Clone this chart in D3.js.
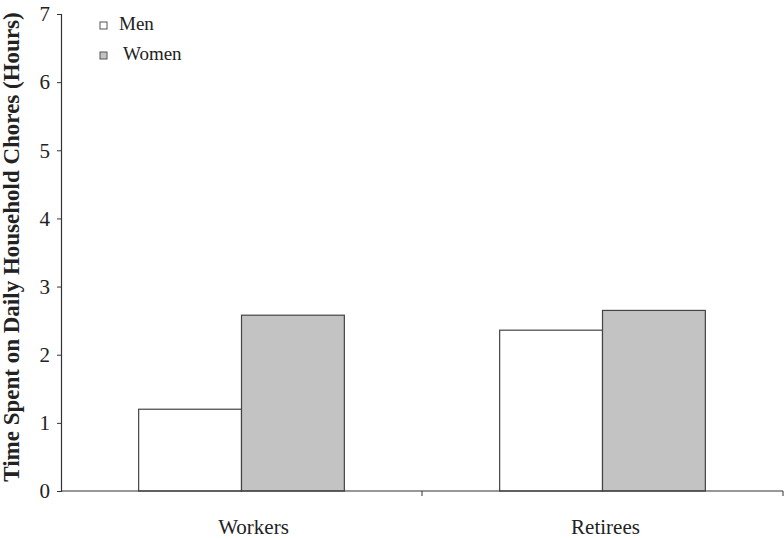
<!DOCTYPE html>
<html>
<head>
<meta charset="utf-8">
<script src="https://cdn.jsdelivr.net/npm/d3@7"></script>
<style>
  body { margin: 0; background: #fff; }
</style>
</head>
<body>
<svg id="chart" width="784" height="540"></svg>
<script>
const groups = ["Workers", "Retirees"];
const seriesNames = ["Men", "Women"];
const men = [1.20, 2.36];
const women = [2.58, 2.65];
const yTicks = [0, 1, 2, 3, 4, 5, 6, 7];

const colors = { Men: "#ffffff", Women: "#c3c3c3" };
const fontFam = "Liberation Serif";

const svg = d3.select("#chart");
const margin = { top: 14, right: 1, bottom: 49, left: 61 };
const width = +svg.attr("width") - margin.left - margin.right;
const height = +svg.attr("height") - margin.top - margin.bottom;

const chart = svg.append("g")
    .attr("transform", `translate(${margin.left},${margin.top})`);

const x = d3.scaleBand().domain(groups).range([0, width]);
const xInner = d3.scaleBand().domain(seriesNames)
    .range([0, x.bandwidth()]).paddingOuter(0.755).paddingInner(0);
const y = d3.scaleLinear().domain([0, 7]).range([height, 0]);

const data = groups.map((g, i) => ({ group: g, values: [
    { key: "Men", value: men[i] },
    { key: "Women", value: women[i] }
]}));

// bars
chart.selectAll(".grp")
    .data(data)
    .enter().append("g")
    .attr("transform", d => `translate(${x(d.group)},0)`)
    .selectAll("rect")
    .data(d => d.values)
    .enter().append("rect")
    .attr("x", d => xInner(d.key))
    .attr("y", d => y(d.value))
    .attr("width", xInner.bandwidth())
    .attr("height", d => height - y(d.value))
    .attr("fill", d => colors[d.key])
    .attr("stroke", "#444")
    .attr("stroke-width", 1.2);

// y axis
const yAxis = chart.append("g")
    .call(d3.axisLeft(y).tickValues(yTicks).tickFormat(d3.format("d"))
        .tickSize(4).tickPadding(7));
yAxis.select(".domain").attr("stroke", "#333").attr("stroke-width", 1.2);
yAxis.selectAll(".tick line").attr("stroke", "#333");
yAxis.selectAll("text")
    .style("font-family", fontFam)
    .style("font-size", "21px")
    .attr("fill", "#222");

// x axis: ticks at band boundaries
const xAxis = chart.append("g").attr("transform", `translate(0,${height})`);
xAxis.append("line").attr("x1", 0).attr("x2", width)
    .attr("stroke", "#333").attr("stroke-width", 1.2);
xAxis.selectAll(".xt")
    .data(groups.slice(1).map(g => x(g)).concat([width]))
    .enter().append("line")
    .attr("x1", d => d).attr("x2", d => d)
    .attr("y1", 0).attr("y2", 5)
    .attr("stroke", "#333");
// labels sit a little right of the band centre in the original
const labelShift = [12, 3];
xAxis.selectAll(".xl")
    .data(groups)
    .enter().append("text")
    .attr("x", (d, i) => x(d) + x.bandwidth() / 2 + labelShift[i])
    .attr("y", 43)
    .attr("text-anchor", "middle")
    .style("font-family", fontFam)
    .style("font-size", "21px")
    .attr("fill", "#222")
    .text(d => d);

// y title
svg.append("text")
    .attr("transform", "translate(19,247) rotate(-90)")
    .attr("text-anchor", "middle")
    .style("font-family", fontFam)
    .style("font-size", "23px")
    .style("font-weight", "bold")
    .attr("fill", "#222")
    .text("Time Spent on Daily Household Chores (Hours)");

// legend
const legend = svg.append("g").attr("transform", "translate(100,22)");
seriesNames.forEach((s, i) => {
    const row = legend.append("g").attr("transform", `translate(0,${i * 30})`);
    row.append("rect")
        .attr("width", 7).attr("height", 7)
        .attr("fill", colors[s])
        .attr("stroke", "#555").attr("stroke-width", 1);
    row.append("text")
        .attr("x", 19 + i * 4).attr("y", 8)
        .style("font-family", fontFam)
        .style("font-size", "19px")
        .attr("fill", "#222")
        .text(s);
});
</script>
</body>
</html>
